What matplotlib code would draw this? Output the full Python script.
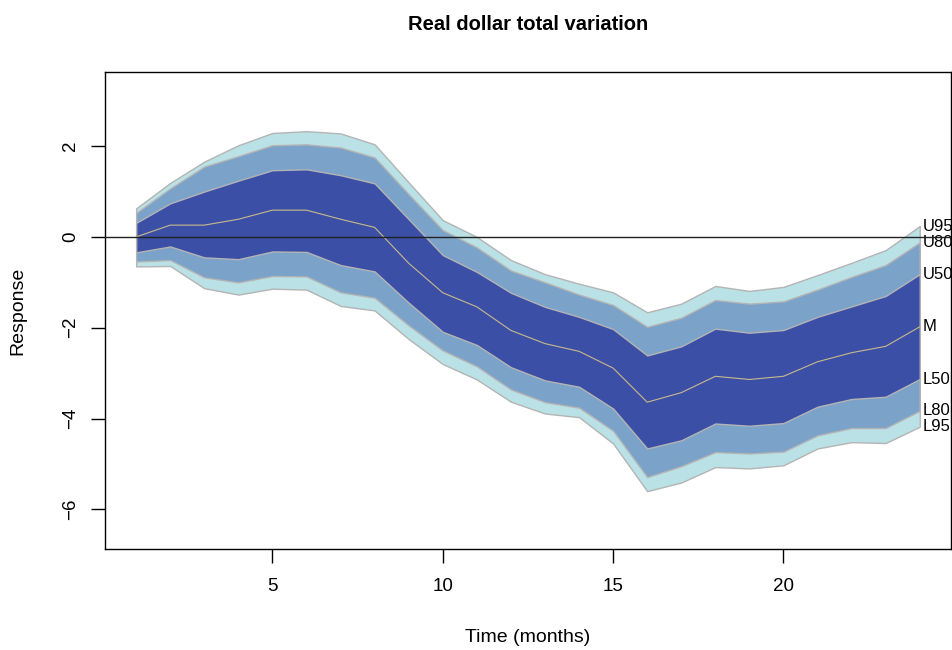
import matplotlib.pyplot as plt

plt.rcParams['font.family'] = ['Liberation Sans', 'DejaVu Sans']

# horizonte en meses
meses = list(range(1, 25))

# bandas del fan chart
u95 = [0.63, 1.19, 1.66, 2.02, 2.29, 2.33, 2.28, 2.04, 1.20, 0.37, 0.00, -0.51,
       -0.82, -1.03, -1.22, -1.66, -1.47, -1.08, -1.19, -1.10, -0.84, -0.57, -0.29, 0.24]
u80 = [0.53, 1.07, 1.55, 1.78, 2.02, 2.04, 1.97, 1.75, 0.94, 0.15, -0.23, -0.74,
       -1.00, -1.27, -1.50, -1.98, -1.78, -1.39, -1.47, -1.42, -1.16, -0.88, -0.62, -0.12]
u50 = [0.31, 0.74, 1.00, 1.24, 1.47, 1.49, 1.36, 1.18, 0.39, -0.40, -0.77, -1.23,
       -1.54, -1.76, -2.03, -2.61, -2.41, -2.02, -2.11, -2.05, -1.76, -1.53, -1.30, -0.82]
mediana = [0.00, 0.26, 0.26, 0.39, 0.59, 0.59, 0.39, 0.21, -0.58, -1.23, -1.54, -2.06,
           -2.35, -2.52, -2.89, -3.64, -3.43, -3.07, -3.14, -3.07, -2.75, -2.55, -2.41, -1.98]
l50 = [-0.34, -0.21, -0.45, -0.49, -0.32, -0.33, -0.62, -0.76, -1.45, -2.09, -2.38, -2.87,
       -3.16, -3.30, -3.78, -4.66, -4.48, -4.11, -4.16, -4.10, -3.74, -3.57, -3.52, -3.13]
l80 = [-0.54, -0.51, -0.89, -1.00, -0.86, -0.87, -1.22, -1.34, -1.95, -2.50, -2.85, -3.36,
       -3.64, -3.76, -4.27, -5.29, -5.05, -4.74, -4.77, -4.73, -4.37, -4.21, -4.21, -3.83]
l95 = [-0.65, -0.64, -1.13, -1.27, -1.14, -1.16, -1.52, -1.62, -2.25, -2.80, -3.14, -3.63,
       -3.89, -3.97, -4.55, -5.60, -5.41, -5.07, -5.10, -5.03, -4.66, -4.52, -4.54, -4.18]

etiquetas = ['U95', 'U80', 'U50', 'M', 'L50', 'L80', 'L95']

fig = plt.figure(figsize=(9.53, 6.5), dpi=100)
ax = fig.add_axes([0.110, 0.155, 0.888, 0.734])

borde = '#b4b4b4'
ax.fill_between(meses, l95, u95, color='#bae1e5', edgecolor=borde, linewidth=1.0, zorder=1)
ax.fill_between(meses, l80, u80, color='#7ba2c9', edgecolor=borde, linewidth=1.0, zorder=2)
ax.fill_between(meses, l50, u50, color='#3c4fa7', edgecolor=borde, linewidth=1.0, zorder=3)
ax.plot(meses, mediana, color='#c8b98a', linewidth=0.8, zorder=4)

ax.axhline(0, color='#222222', linewidth=1.0, zorder=5)

# etiquetas a la derecha de cada banda
series = [u95, u80, u50, mediana, l50, l80, l95]
for nombre, s in zip(etiquetas, series):
    ax.annotate(nombre, xy=(meses[-1], s[-1]), xytext=(2, 0), textcoords='offset points',
                ha='left', va='center', fontsize=12, clip_on=False)

ax.set_xlim(0.08, 24.92)
ax.set_ylim(-6.88, 3.63)
ax.set_xticks([5, 10, 15, 20])
ax.set_yticks([-6, -4, -2, 0, 2])
ax.set_yticklabels(['\u22126', '\u22124', '\u22122', '0', '2'], rotation=90, va='center')
ax.tick_params(direction='out', length=10, width=1, labelsize=13.5)
ax.tick_params(axis='x', pad=10.5)
ax.tick_params(axis='y', pad=8.5)
for sp in ax.spines.values():
    sp.set_linewidth(1)

ax.set_xlabel('Time (months)', fontsize=14, labelpad=24.5)
ax.set_ylabel('Response', fontsize=14, labelpad=25.5)
ax.set_title('Real dollar total variation', fontsize=14.5, fontweight='bold', pad=30.5)

fig.savefig('out.png', dpi=100)
